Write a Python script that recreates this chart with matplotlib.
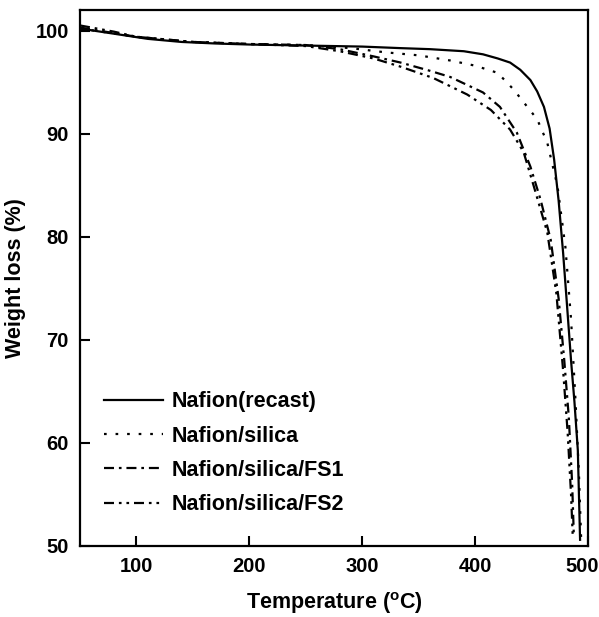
import matplotlib
matplotlib.use("Agg")
import matplotlib.pyplot as plt
from matplotlib.transforms import ScaledTranslation

# TGA curves
t_recast = [50, 80, 110, 140, 170, 200, 250, 300, 334, 360, 390, 407, 420, 431,
            440, 449, 455, 461, 466, 470, 474, 478, 482, 485, 488, 491, 493]
w_recast = [100.2, 99.7, 99.2, 98.9, 98.75, 98.65, 98.55, 98.45, 98.3, 98.2, 98.0,
            97.7, 97.3, 96.9, 96.2, 95.2, 94.1, 92.6, 90.5, 87.5, 83.5, 78.4, 72.5,
            68.0, 64.0, 59.3, 50.6]

t_silica = [50, 100, 150, 200, 250, 290, 320, 350, 378, 400, 420, 434, 447, 455,
            464, 473, 480, 485, 489, 492, 494]
w_silica = [100.2, 99.4, 98.9, 98.7, 98.6, 98.3, 97.9, 97.6, 97.1, 96.6, 95.9,
            94.3, 92.5, 91.4, 89.1, 84.9, 79.0, 72.0, 64.0, 57.0, 50.5]

t_fs1 = [50, 100, 150, 200, 250, 280, 310, 334, 360, 378, 407, 422, 437, 449,
         458, 467, 474, 479, 483, 486, 487.5]
w_fs1 = [100.3, 99.4, 98.9, 98.7, 98.6, 98.2, 97.5, 96.9, 96.1, 95.5, 94.0, 92.6,
         90.1, 86.8, 83.6, 79.7, 74.0, 68.0, 62.5, 56.0, 50.9]

t_fs2 = [50, 80, 100, 150, 200, 250, 280, 310, 334, 363, 393, 414, 431, 443,
         452, 464, 472, 478, 482, 485, 486.5]
w_fs2 = [100.5, 99.9, 99.4, 98.9, 98.7, 98.5, 98.0, 97.3, 96.5, 95.4, 93.8, 92.3,
         90.4, 88.2, 84.9, 80.4, 74.5, 67.0, 61.0, 55.0, 50.9]

labels = ["Nafion(recast)", "Nafion/silica", "Nafion/silica/FS1", "Nafion/silica/FS2"]

plt.rcParams['font.family'] = ['Liberation Sans', 'DejaVu Sans']
plt.rcParams['font.weight'] = 'bold'
plt.rcParams['mathtext.fontset'] = 'custom'
plt.rcParams['mathtext.rm'] = 'Liberation Sans:bold'

fig = plt.figure(figsize=(5.99, 6.17), dpi=100)
ax = fig.add_axes([0.1336, 0.1151, 0.848, 0.8687])

ax.plot(t_recast, w_recast, color='black', lw=1.6, label=labels[0])
ax.plot(t_silica, w_silica, color='black', lw=1.6, dashes=(1.2, 4.0), label=labels[1])
ax.plot(t_fs1, w_fs1, color='black', lw=1.6, dashes=(4.5, 2.2, 1.2, 2.2), label=labels[2])
ax.plot(t_fs2, w_fs2, color='black', lw=1.6,
        dashes=(4.5, 2.2, 1.2, 2.2, 1.2, 2.2), label=labels[3])

ax.set_xlim(50, 500)
ax.set_ylim(50, 102)
ax.set_xticks([100, 200, 300, 400, 500])
ax.set_yticks([50, 60, 70, 80, 90, 100])
ax.tick_params(direction='in', length=7, width=1.5, labelsize=14.5, pad=8,
               top=False, right=False)
for lab in ax.get_xticklabels() + ax.get_yticklabels():
    lab.set_fontweight('bold')
# the last x label sits a little left of its tick, as in the original
last = ax.get_xticklabels()[-1]
last.set_transform(last.get_transform() + ScaledTranslation(-6 / 100, 0, fig.dpi_scale_trans))
for s in ax.spines.values():
    s.set_linewidth(1.6)

ax.set_xlabel(r"Temperature ($^{\mathrm{o}}$C)", fontsize=15.5, fontweight='bold', labelpad=10)
ax.set_ylabel("Weight loss (%)", fontsize=15.5, fontweight='bold', labelpad=7)

leg = ax.legend(loc='upper left', bbox_to_anchor=(0.01, 0.325), frameon=False,
                fontsize=15.5, handlelength=2.7, handletextpad=0.4, labelspacing=0.62)
for t in leg.get_texts():
    t.set_fontweight('bold')

fig.savefig("out.png", dpi=100)
